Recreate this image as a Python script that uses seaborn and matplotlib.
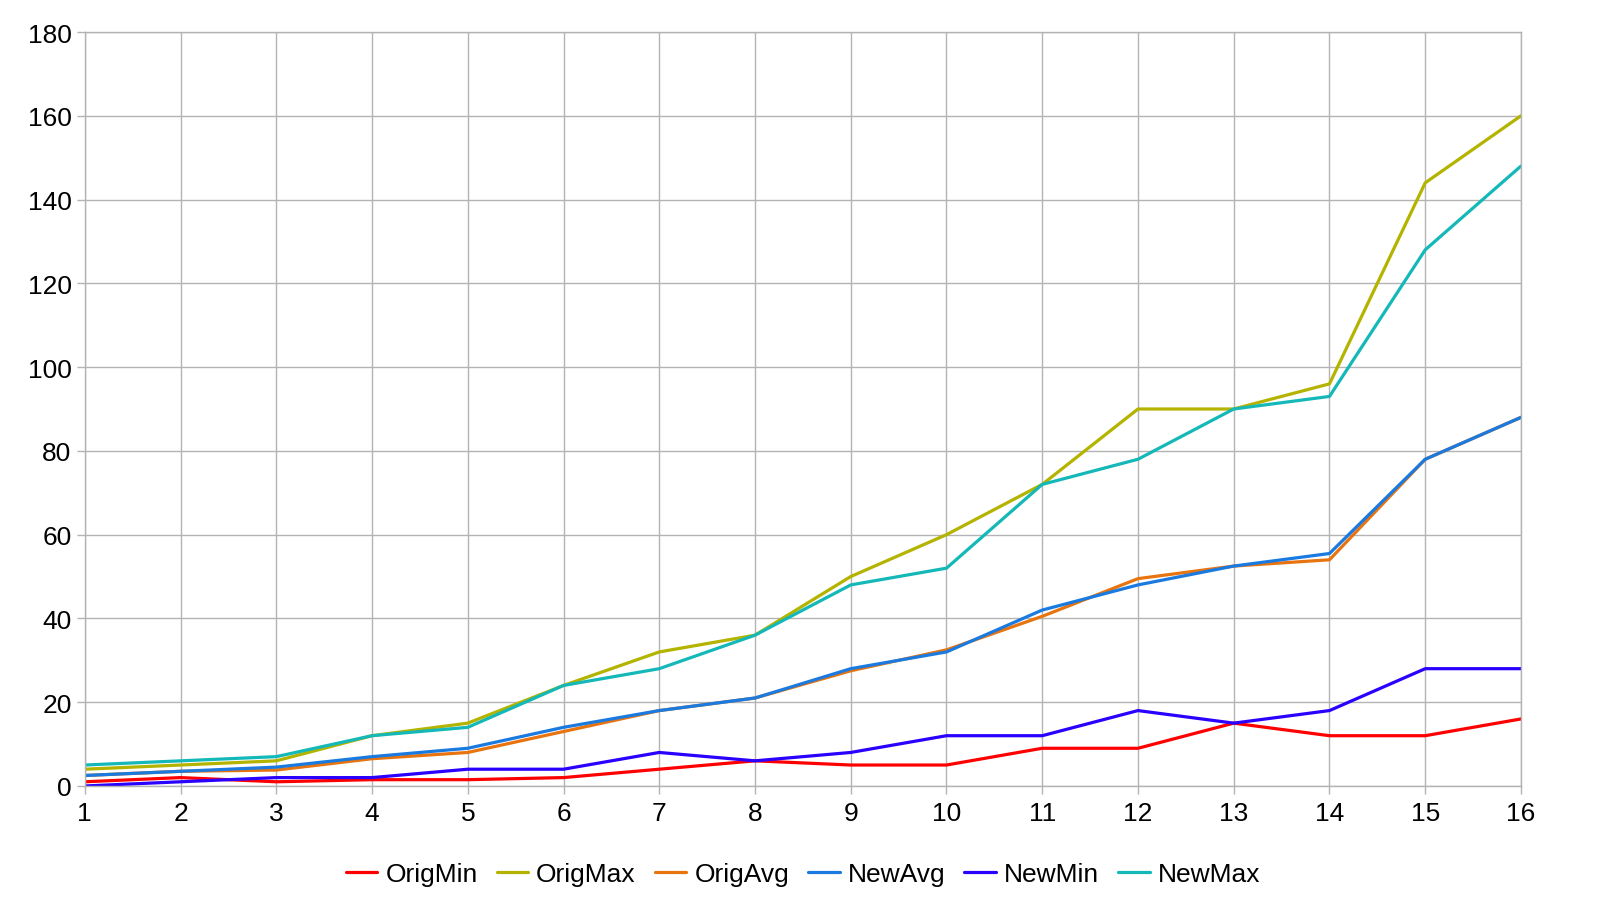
import pandas as pd
import matplotlib
matplotlib.use("Agg")
import matplotlib.pyplot as plt
import seaborn as sns

x_vals = list(range(1, 17))

orig_min = [1, 2, 1, 1.5, 1.5, 2, 4, 6, 5, 5, 9, 9, 15, 12, 12, 16]
orig_max = [4, 5, 6, 12, 15, 24, 32, 36, 50, 60, 72, 90, 90, 96, 144, 160]
orig_avg = [2.5, 3.5, 3.8, 6.5, 8, 13, 18, 21, 27.5, 32.5, 40.5, 49.5, 52.5, 54, 78, 88]
new_avg = [2.5, 3.5, 4.5, 7, 9, 14, 18, 21, 28, 32, 42, 48, 52.5, 55.5, 78, 88]
new_min = [0, 1, 2, 2, 4, 4, 8, 6, 8, 12, 12, 18, 15, 18, 28, 28]
new_max = [5, 6, 7, 12, 14, 24, 28, 36, 48, 52, 72, 78, 90, 93, 128, 148]

series_names = ["OrigMin", "OrigMax", "OrigAvg", "NewAvg", "NewMin", "NewMax"]
colors = ["#ff0000", "#b3b300", "#e8740f", "#1a7ae0", "#2a00ff", "#14b8b8"]

df = pd.DataFrame({
    "x": x_vals,
    "OrigMin": orig_min,
    "OrigMax": orig_max,
    "OrigAvg": orig_avg,
    "NewAvg": new_avg,
    "NewMin": new_min,
    "NewMax": new_max,
})
long_df = df.melt(id_vars="x", var_name="series", value_name="value")

sns.set_theme(style="white")
plt.rcParams["font.family"] = ["Liberation Sans", "DejaVu Sans"]
plt.rcParams["text.color"] = "black"

fig = plt.figure(figsize=(16, 9.2), dpi=100)
ax = fig.add_axes([0.053, 0.1446, 0.8976, 0.8195])

sns.lineplot(data=long_df, x="x", y="value", hue="series", hue_order=series_names,
             palette=colors, linewidth=2.3, ax=ax, legend=True)

ax.set_xlim(1, 16)
ax.set_ylim(0, 180)
ax.set_xticks(x_vals)
ax.set_yticks(range(0, 181, 20))
ax.set_xlabel("")
ax.set_ylabel("")
ax.grid(True, color="#b3b3b3", linewidth=1)
ax.set_axisbelow(True)
for s in ax.spines.values():
    s.set_color("#b3b3b3")
    s.set_linewidth(1)
ax.tick_params(axis="both", labelsize=19, colors="#b3b3b3", labelcolor="black",
               length=6, width=1, direction="out", left=True, bottom=True)
ax.tick_params(axis="x", pad=5)

handles, labels = ax.get_legend_handles_labels()
leg = ax.legend(handles, labels, loc="upper center", bbox_to_anchor=(0.5, -0.07),
                ncol=6, frameon=False, fontsize=19, handlelength=1.2,
                handletextpad=0.3, columnspacing=0.72)
for t in leg.get_texts():
    t.set_color("black")

plt.savefig("out.png", dpi=100)
